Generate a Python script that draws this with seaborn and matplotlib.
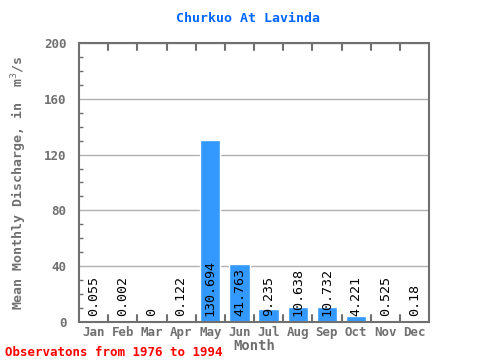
import matplotlib
matplotlib.use("Agg")
import matplotlib.pyplot as plt
import seaborn as sns
import pandas as pd
from matplotlib.ticker import MultipleLocator

months = ["Jan", "Feb", "Mar", "Apr", "May", "Jun", "Jul", "Aug", "Sep", "Oct", "Nov", "Dec"]
values = [0.055, 0.002, 0, 0.122, 130.694, 41.763, 9.235, 10.638, 10.732, 4.221, 0.525, 0.18]
labels = ["0.055", "0.002", "0", "0.122", "130.694", "41.763", "9.235", "10.638", "10.732", "4.221", "0.525", "0.18"]

sns.set_style("white")
plt.rcParams['font.family'] = ['DejaVu Sans Mono', 'DejaVu Sans']

df = pd.DataFrame({"Month": months, "Value": values})
fig = plt.figure(figsize=(4.8, 3.6), dpi=100)
ax = fig.add_axes([0.1646, 0.1056, 0.7292, 0.775])
sns.barplot(data=df, x="Month", y="Value", color="#3399ff", saturation=1, width=0.7, ax=ax, zorder=2)

ax.set_ylim(0, 200)
ax.set_xlim(-0.5, 11.5)
ax.set_yticks([0, 40, 80, 120, 160, 200])
ax.yaxis.set_minor_locator(MultipleLocator(10))
ax.grid(axis="y", color="#b0b0b0", linewidth=1, zorder=0)
ax.set_axisbelow(True)
for s in ax.spines.values():
    s.set_color("#707070")
    s.set_linewidth(1.5)

grey = "#707070"
ax.tick_params(axis="y", which="major", direction="in", length=5, color=grey, labelcolor=grey, labelsize=9, width=1, pad=9)
ax.tick_params(axis="y", which="minor", direction="in", length=3, color=grey, width=1, left=True)
ax.tick_params(axis="x", which="major", length=0, labelcolor=grey, labelsize=9, pad=3)
for lbl in ax.get_xticklabels() + ax.get_yticklabels():
    lbl.set_fontweight("bold")

# month boundary ticks on bottom and top
for b in [i + 0.5 for i in range(11)]:
    ax.plot([b, b], [0, 5], color=grey, lw=1.5, zorder=3, clip_on=False)
    ax.plot([b, b], [195, 200], color=grey, lw=1.5, zorder=3, clip_on=False)

for i, t in enumerate(labels):
    ax.text(i, 4, t, rotation=90, ha="center", va="bottom", fontsize=9.6, color="black", zorder=4)

ax.set_xlabel("Month", color=grey, fontsize=10, fontweight="bold", labelpad=0)
ax.set_ylabel("Mean Monthly Discharge, in  m$^{3}$/s", color=grey, fontsize=9.5, fontweight="bold", labelpad=11)
fig.text(248 / 480, 1 - 18 / 360, "Churkuo At Lavinda", color="#0066ff", fontsize=9.5, fontweight="bold",
         ha="center", va="center")
fig.text(0.01, 0.012, "Observatons from 1976 to 1994", color="red", fontsize=9, fontweight="bold")

fig.savefig("out.png", dpi=100)
